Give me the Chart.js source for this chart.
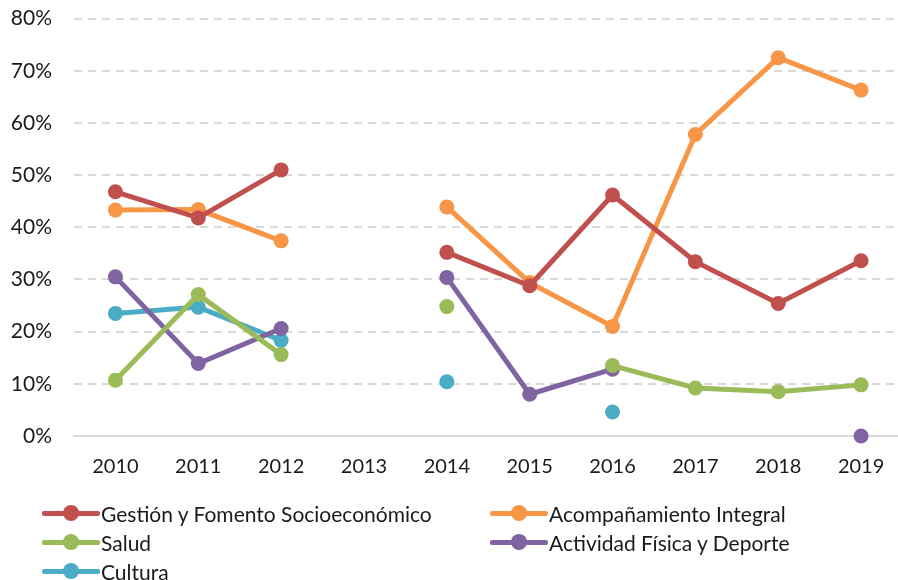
<!DOCTYPE html>
<html><head><meta charset="utf-8">
<script src="https://cdn.jsdelivr.net/npm/chart.js@4"></script>
<style>
html,body{margin:0;padding:0;background:#fff;width:898px;height:580px;overflow:hidden;font-family:Lato,"Noto Sans",sans-serif;}
#wrap{position:absolute;left:0;top:-16px;width:910px;height:496px;}
#legend{position:absolute;left:0;top:0;width:898px;height:580px;pointer-events:none;}
.item{position:absolute;display:flex;align-items:center;height:28px;font-size:21px;color:#1a1a1a;white-space:nowrap;}
.sw{position:relative;width:58px;height:28px;margin-right:1px;}
.sw .ln{position:absolute;left:0;right:0;top:12px;height:5px;border-radius:2px;}
.sw .dt{position:absolute;left:21px;top:6px;width:16px;height:16px;border-radius:50%;}
</style></head>
<body>
<div id="wrap"><canvas id="c" width="910" height="496"></canvas></div>
<div id="legend"></div>
<script>
const years = ["2010","2011","2012","2013","2014","2015","2016","2017","2018","2019"];
const yTicks = [0,10,20,30,40,50,60,70,80];
const seriesNames = ["Gestión y Fomento Socioeconómico","Acompañamiento Integral","Salud","Actividad Física y Deporte","Cultura"];
const gestion   = [46.8, 41.8, 51.0, null, 35.2, 28.8, 46.2, 33.4, 25.4, 33.6];
const acompana  = [43.3, 43.4, 37.4, null, 43.9, 29.4, 21.0, 57.8, 72.5, 66.3];
const salud     = [10.7, 27.1, 15.6, null, 24.8, null, 13.5, 9.2, 8.5, 9.8];
const actividad = [30.5, 13.9, 20.6, null, 30.4, 8.0, 12.8, null, null, 0.0];
const cultura   = [23.5, 24.7, 18.3, null, 10.4, null, 4.6, null, null, null];
const colors = ["#C0504D","#F79646","#9BBB59","#8064A2","#4BACC6"];
const allData = [gestion, acompana, salud, actividad, cultura];

const datasets = allData.map((d,i)=>({
  label: seriesNames[i],
  data: d,
  borderColor: colors[i],
  backgroundColor: colors[i],
  pointBackgroundColor: colors[i],
  pointBorderColor: colors[i],
  borderWidth: 5,
  pointRadius: 7.5,
  pointHoverRadius: 7.5,
  pointBorderWidth: 0,
  spanGaps: false,
  tension: 0,
  clip: false,
  order: i
}));

new Chart(document.getElementById('c'), {
  type: 'line',
  data: { labels: years, datasets: datasets },
  options: {
    responsive: false,
    animation: false,
    layout: { padding: { top: 0, right: 0, left: 0, bottom: 0 } },
    plugins: { legend: { display: false }, tooltip: { enabled: false } },
    scales: {
      x: {
        offset: true,
        grid: { display: false, drawTicks: false },
        border: { display: true, color: '#d9d9d9', width: 2 },
        ticks: { padding: 19, color: '#1a1a1a', font: { family: 'Lato', size: 20 } },
        afterFit: s => { s.height = 44; }
      },
      y: {
        min: 0, max: 80,
        afterBuildTicks: s => { s.ticks = yTicks.map(v=>({value:v})); },
        grid: { color: '#d9d9d9', lineWidth: 2, drawTicks: false },
        border: { display: false, dash: [8,6] },
        ticks: { padding: 22, color: '#1a1a1a', font: { family: 'Lato', size: 21 }, callback: v => v + '%' },
        afterFit: s => { s.width = 74; }
      }
    }
  }
});

// HTML legend built from the datasets
const pos = [[42,499],[490,499],[42,528],[490,528],[42,557]];
const lg = document.getElementById('legend');
seriesNames.forEach((n,i)=>{
  const it = document.createElement('div');
  it.className='item';
  it.style.left = pos[i][0]+'px'; it.style.top = pos[i][1]+'px';
  it.innerHTML = '<div class="sw"><div class="ln" style="background:'+colors[i]+'"></div><div class="dt" style="background:'+colors[i]+'"></div></div><span>'+n+'</span>';
  lg.appendChild(it);
});
</script>
</body></html>
